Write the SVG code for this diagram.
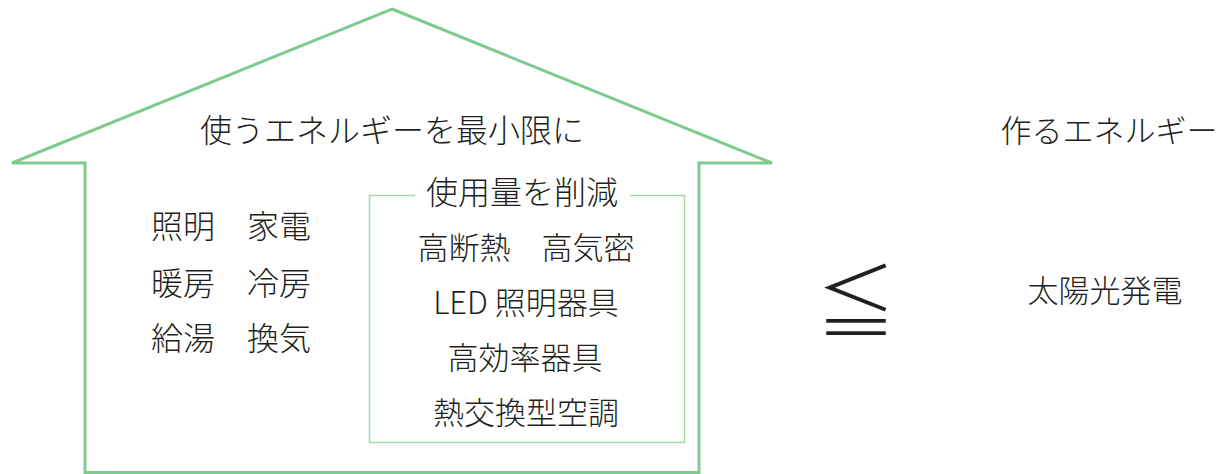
<svg xmlns="http://www.w3.org/2000/svg" width="1227" height="474" viewBox="0 0 1227 474">
<style>
.t{font-family:"Noto Sans CJK JP","Noto Sans",sans-serif;fill:#231f20;font-weight:300;}
.c{text-anchor:middle;}
.house{fill:none;stroke:#7ecb8f;stroke-width:3;stroke-linejoin:miter;}
.box{fill:none;stroke:#a3d9ae;stroke-width:1.5;}
</style>
<rect width="1227" height="474" fill="#ffffff"/>
<g id="house">
<path class="house" d="M392,9 L772,163 L699,163 L699,472.5 L85,472.5 L85,163 L12,163 Z"/>
<text class="t c" x="392" y="142" font-size="32">使うエネルギーを最小限に</text>
</g>
<g id="uses">
<text class="t" x="151" y="238" font-size="32">照明　家電</text>
<text class="t" x="151" y="295" font-size="32">暖房　冷房</text>
<text class="t" x="151" y="350" font-size="32">給湯　換気</text>
</g>
<g id="reduce">
<path class="box" d="M415,195.5 L369.5,195.5 L369.5,442.5 L684.5,442.5 L684.5,195.5 L630,195.5"/>
<text class="t c" x="522" y="204" font-size="32">使用量を削減</text>
<text class="t c" x="526" y="259" font-size="31">高断熱　高気密</text>
<text class="t c" x="526" y="314" font-size="31">LED 照明器具</text>
<text class="t c" x="525" y="369" font-size="31">高効率器具</text>
<text class="t c" x="526" y="424" font-size="31">熱交換型空調</text>
</g>
<g id="leq">
<text class="t c" x="856" y="331" font-size="80">≦</text>
</g>
<g id="produce">
<text class="t c" x="1109" y="142" font-size="31">作るエネルギー</text>
<text class="t c" x="1105" y="302" font-size="31">太陽光発電</text>
</g>
<g id="connectors"/>
</svg>
